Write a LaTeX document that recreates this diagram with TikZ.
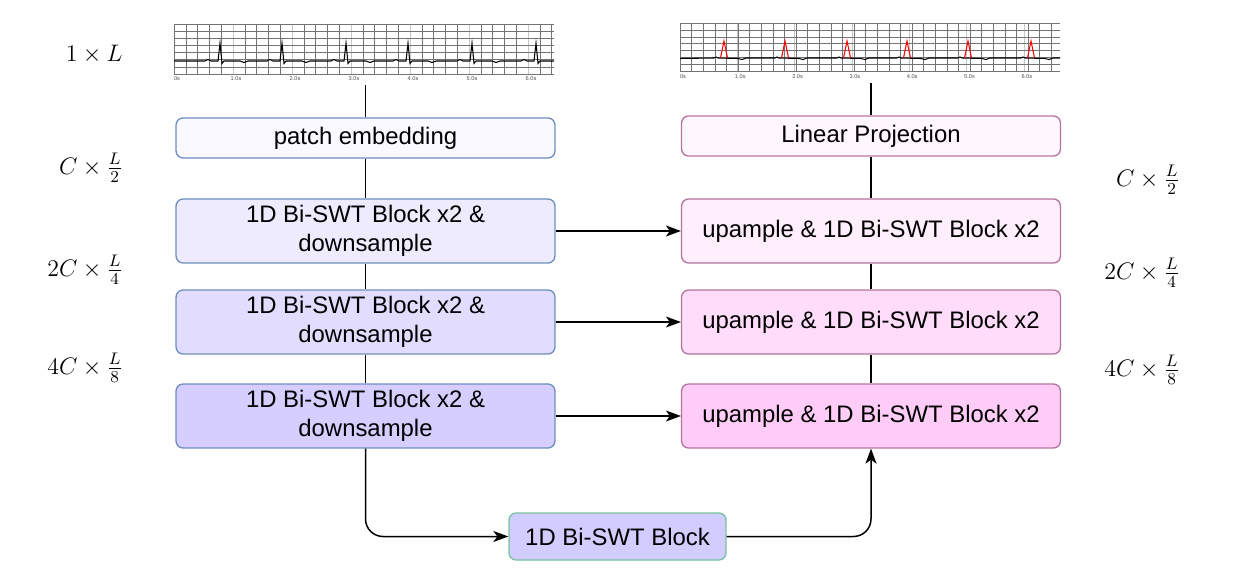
\documentclass[tikz,border=0pt]{standalone}
\usepackage{fix-cm}
\usepackage{amsmath}
\usepackage[no-math]{fontspec}
\setmainfont{Liberation Sans}
\usepackage{tikz}
\usetikzlibrary{shapes,arrows.meta}

\definecolor{encline}{HTML}{6C8EBF}
\definecolor{decline}{HTML}{B5739D}
\definecolor{botline}{HTML}{74C2A0}
\definecolor{enczero}{HTML}{FAF9FF}
\definecolor{encone}{HTML}{EEEBFF}
\definecolor{enctwo}{HTML}{E2DCFF}
\definecolor{encthree}{HTML}{D5CEFF}
\definecolor{botfill}{HTML}{D2CCFF}
\definecolor{deczero}{HTML}{FFF7FD}
\definecolor{decone}{HTML}{FFEEFC}
\definecolor{dectwo}{HTML}{FFDDFA}
\definecolor{decthree}{HTML}{FFCCF8}

\begin{document}
\begin{tikzpicture}[%
  x=0.02cm, y=-0.02cm,
  font=\fontsize{13.6}{16.5}\selectfont,
  box/.style={draw, rounded corners=4pt, line width=0.75pt, align=center,
    inner sep=0pt, minimum width=7.58cm},
  enc/.style={box, draw=encline},
  dec/.style={box, draw=decline},
  short/.style={minimum height=0.8cm},
  tall/.style={minimum height=1.28cm},
  flow/.style={line width=0.85pt, rounded corners=0.35cm},
  tip/.style={-{Stealth[length=0.3cm, width=0.22cm, inset=0.08cm]}},
  grid/.style={black!55, line width=0.3pt},
  sec/.style={black!22, line width=0.35pt},
  tick/.style={font=\fontsize{3.2}{3.5}\selectfont, text=black!70, inner sep=0pt, anchor=north},
  dimlab/.style={anchor=east, inner sep=0pt}]
  \useasboundingbox (0,0) rectangle (1260,584);

  \node[minimum width=7.6cm, minimum height=1.22cm, inner sep=0pt] (ecgin) at (365.5,54.5) {};
  \foreach \i in {0,...,32}
    \draw[grid] (174+11.8*\i,24) -- (174+11.8*\i,74);
  \foreach \i in {1,...,6}
    \draw[sec] (174+59*\i,24) -- (174+59*\i,74);
  \foreach \j in {0,...,7}
    \draw[grid] (174,24+7.14*\j) -- (554,24+7.14*\j);
  \begin{scope}
    \clip (174,20) rectangle (554,76);
    \draw[line width=0.6pt] (174,61) foreach \s in {220,282,346,408,472,536}
      { -- (\s-15,61) -- (\s-12,59.5) -- (\s-9,61) -- (\s-2,61) -- (\s,43) -- (\s+2,63.5)
        -- (\s+4,61) -- (\s+20,61) -- (\s+24,62.5) -- (\s+28,61) } -- (580,61);
  \end{scope}
  \foreach \t [count=\k from 0] in {0s,1.0s,2.0s,3.0s,4.0s,5.0s,6.0s}
    \node[tick] at (177+59*\k,76.5) {\t};

  \node[minimum width=7.6cm, minimum height=1.2cm, inner sep=0pt] (ecgout) at (871,53) {};
  \foreach \i in {0,...,32}
    \draw[grid] (680+11.6*\i,23) -- (680+11.6*\i,72);
  \foreach \i in {1,...,6}
    \draw[sec] (680+57.3*\i,23) -- (680+57.3*\i,72);
  \foreach \j in {0,...,7}
    \draw[grid] (680,23+6.9*\j) -- (1060,23+6.9*\j);
  \draw[line width=0.6pt] (680,58.5) foreach \s in {724,785,847,907,968,1031}
    { -- (\s-10,58) -- (\s-8,57) -- (\s-6,58) -- (\s+14,58.5) -- (\s+18,59.5) -- (\s+22,58) } -- (1060,58);
  \foreach \s in {724,785,847,907,968,1031}
    \draw[red, line width=0.6pt] (\s-3.5,58) -- (\s,41) -- (\s+3.5,58);
  \foreach \t [count=\k from 0] in {0s,1.0s,2.0s,3.0s,4.0s,5.0s,6.0s}
    \node[tick] at (683+57.3*\k,74) {\t};

  \node[enc, short, fill=enczero] (patch) at (365.5,138) {patch embedding};
  \node[enc, tall, fill=encone] (downa) at (365.5,231) {1D Bi-SWT Block x2 \&\\downsample};
  \node[enc, tall, fill=enctwo] (downb) at (365.5,322) {1D Bi-SWT Block x2 \&\\downsample};
  \node[enc, tall, fill=encthree] (downc) at (365.5,416) {1D Bi-SWT Block x2 \&\\downsample};

  \node[dec, short, fill=deczero] (proj) at (871,136) {Linear Projection};
  \node[dec, tall, fill=decone] (upa) at (871,231) {upample \& 1D Bi-SWT Block x2};
  \node[dec, tall, fill=dectwo] (upb) at (871,322) {upample \& 1D Bi-SWT Block x2};
  \node[dec, tall, fill=decthree] (upc) at (871,416) {upample \& 1D Bi-SWT Block x2};

  \node[box, draw=botline, fill=botfill, minimum width=4.34cm, minimum height=0.94cm]
    (neck) at (617.5,536.5) {1D Bi-SWT Block};

  \node[dimlab] (dimin) at (123,54) {$1\times L$};
  \node[dimlab] (dima) at (123,168) {$C\times\frac{L}{2}$};
  \node[dimlab] (dimb) at (123,270) {$2C\times\frac{L}{4}$};
  \node[dimlab] (dimc) at (123,368) {$4C\times\frac{L}{8}$};
  \node[dimlab] (dimd) at (1180,180) {$C\times\frac{L}{2}$};
  \node[dimlab] (dime) at (1180,273) {$2C\times\frac{L}{4}$};
  \node[dimlab] (dimf) at (1180,370) {$4C\times\frac{L}{8}$};

  \draw[flow] (ecgin.south) -- (patch);
  \draw[flow] (patch) -- (downa);
  \draw[flow] (downa) -- (downb);
  \draw[flow] (downb) -- (downc);
  \draw[flow] (ecgout.south) -- (proj);
  \draw[flow] (proj) -- (upa);
  \draw[flow] (upa) -- (upb);
  \draw[flow] (upb) -- (upc);
  \draw[flow, tip] (downa) -- (upa);
  \draw[flow, tip] (downb) -- (upb);
  \draw[flow, tip] (downc) -- (upc);
  \draw[flow, tip] (downc) |- (neck);
  \draw[flow, tip] (neck) -| (upc);
\end{tikzpicture}
\end{document}
